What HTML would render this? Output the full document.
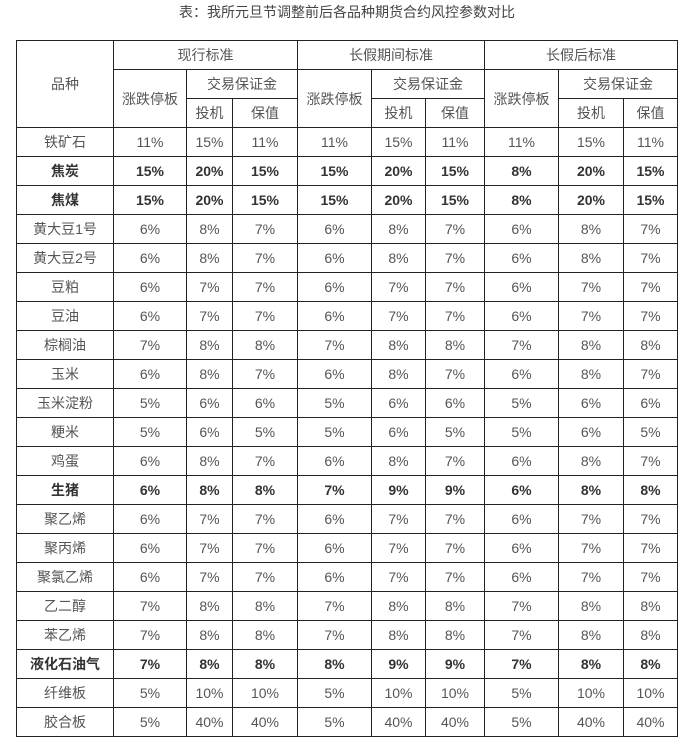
<!DOCTYPE html>
<html><head><meta charset="utf-8"><style>
body{margin:0;width:694px;height:747px;background:#fff;font-family:"Liberation Sans","Noto Sans CJK SC",sans-serif;color:#555;}
.t{position:absolute;top:2px;left:0;width:694px;text-align:center;font-size:14px;line-height:20px;color:#444}
table{position:absolute;left:16px;top:40px;border-collapse:collapse;table-layout:fixed;}
td{border:1px solid #222;height:28px;padding:0;text-align:center;font-size:14px;line-height:16px;}
tr.b td{font-weight:bold;color:#333}
</style></head><body>
<div class="t">表：我所元旦节调整前后各品种期货合约风控参数对比</div>
<table>
<colgroup><col style="width:97px"><col style="width:73px"><col style="width:46px"><col style="width:65px"><col style="width:74px"><col style="width:54px"><col style="width:59px"><col style="width:74px"><col style="width:65px"><col style="width:54px"></colgroup>
<tr><td rowspan="3">品种</td><td colspan="3">现行标准</td><td colspan="3">长假期间标准</td><td colspan="3">长假后标准</td></tr>
<tr><td rowspan="2">涨跌停板</td><td colspan="2">交易保证金</td><td rowspan="2">涨跌停板</td><td colspan="2">交易保证金</td><td rowspan="2">涨跌停板</td><td colspan="2">交易保证金</td></tr>
<tr><td>投机</td><td>保值</td><td>投机</td><td>保值</td><td>投机</td><td>保值</td></tr>
<tr><td>铁矿石</td><td>11%</td><td>15%</td><td>11%</td><td>11%</td><td>15%</td><td>11%</td><td>11%</td><td>15%</td><td>11%</td></tr>
<tr class="b"><td>焦炭</td><td>15%</td><td>20%</td><td>15%</td><td>15%</td><td>20%</td><td>15%</td><td>8%</td><td>20%</td><td>15%</td></tr>
<tr class="b"><td>焦煤</td><td>15%</td><td>20%</td><td>15%</td><td>15%</td><td>20%</td><td>15%</td><td>8%</td><td>20%</td><td>15%</td></tr>
<tr><td>黄大豆1号</td><td>6%</td><td>8%</td><td>7%</td><td>6%</td><td>8%</td><td>7%</td><td>6%</td><td>8%</td><td>7%</td></tr>
<tr><td>黄大豆2号</td><td>6%</td><td>8%</td><td>7%</td><td>6%</td><td>8%</td><td>7%</td><td>6%</td><td>8%</td><td>7%</td></tr>
<tr><td>豆粕</td><td>6%</td><td>7%</td><td>7%</td><td>6%</td><td>7%</td><td>7%</td><td>6%</td><td>7%</td><td>7%</td></tr>
<tr><td>豆油</td><td>6%</td><td>7%</td><td>7%</td><td>6%</td><td>7%</td><td>7%</td><td>6%</td><td>7%</td><td>7%</td></tr>
<tr><td>棕榈油</td><td>7%</td><td>8%</td><td>8%</td><td>7%</td><td>8%</td><td>8%</td><td>7%</td><td>8%</td><td>8%</td></tr>
<tr><td>玉米</td><td>6%</td><td>8%</td><td>7%</td><td>6%</td><td>8%</td><td>7%</td><td>6%</td><td>8%</td><td>7%</td></tr>
<tr><td>玉米淀粉</td><td>5%</td><td>6%</td><td>6%</td><td>5%</td><td>6%</td><td>6%</td><td>5%</td><td>6%</td><td>6%</td></tr>
<tr><td>粳米</td><td>5%</td><td>6%</td><td>5%</td><td>5%</td><td>6%</td><td>5%</td><td>5%</td><td>6%</td><td>5%</td></tr>
<tr><td>鸡蛋</td><td>6%</td><td>8%</td><td>7%</td><td>6%</td><td>8%</td><td>7%</td><td>6%</td><td>8%</td><td>7%</td></tr>
<tr class="b"><td>生猪</td><td>6%</td><td>8%</td><td>8%</td><td>7%</td><td>9%</td><td>9%</td><td>6%</td><td>8%</td><td>8%</td></tr>
<tr><td>聚乙烯</td><td>6%</td><td>7%</td><td>7%</td><td>6%</td><td>7%</td><td>7%</td><td>6%</td><td>7%</td><td>7%</td></tr>
<tr><td>聚丙烯</td><td>6%</td><td>7%</td><td>7%</td><td>6%</td><td>7%</td><td>7%</td><td>6%</td><td>7%</td><td>7%</td></tr>
<tr><td>聚氯乙烯</td><td>6%</td><td>7%</td><td>7%</td><td>6%</td><td>7%</td><td>7%</td><td>6%</td><td>7%</td><td>7%</td></tr>
<tr><td>乙二醇</td><td>7%</td><td>8%</td><td>8%</td><td>7%</td><td>8%</td><td>8%</td><td>7%</td><td>8%</td><td>8%</td></tr>
<tr><td>苯乙烯</td><td>7%</td><td>8%</td><td>8%</td><td>7%</td><td>8%</td><td>8%</td><td>7%</td><td>8%</td><td>8%</td></tr>
<tr class="b"><td>液化石油气</td><td>7%</td><td>8%</td><td>8%</td><td>8%</td><td>9%</td><td>9%</td><td>7%</td><td>8%</td><td>8%</td></tr>
<tr><td>纤维板</td><td>5%</td><td>10%</td><td>10%</td><td>5%</td><td>10%</td><td>10%</td><td>5%</td><td>10%</td><td>10%</td></tr>
<tr><td>胶合板</td><td>5%</td><td>40%</td><td>40%</td><td>5%</td><td>40%</td><td>40%</td><td>5%</td><td>40%</td><td>40%</td></tr>
</table>
</body></html>
